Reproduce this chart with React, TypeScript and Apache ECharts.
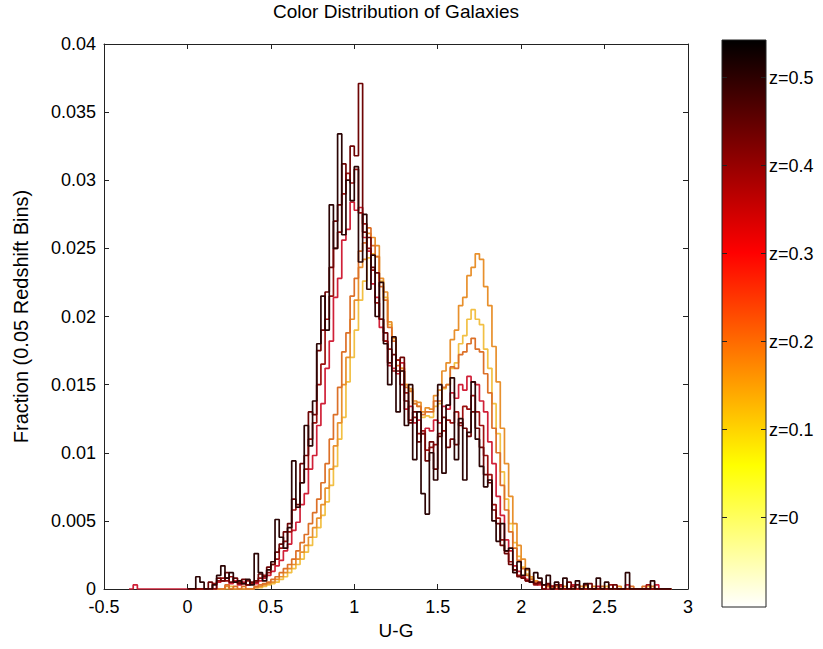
import React, { useEffect, useRef } from 'react';
import * as echarts from 'echarts';

// ---------- DATA (fractions in units of 1e-4, bins of 0.025 in U-G) ----------
const BIN_WIDTH = 0.025;

const X_TICKS = [-0.5, 0, 0.5, 1, 1.5, 2, 2.5, 3];
const Y_TICKS = [0, 0.005, 0.01, 0.015, 0.02, 0.025, 0.03, 0.035, 0.04];

const COLORBAR_LABELS = ['z=0', 'z=0.1', 'z=0.2', 'z=0.3', 'z=0.4', 'z=0.5'];
const COLORBAR_VALUES = [0, 0.1, 0.2, 0.3, 0.4, 0.5];
const COLORBAR_RANGE = [-0.102, 0.542];

const SERIES_NAMES = ['z=0.10', 'z=0.15', 'z=0.20', 'z=0.30', 'z=0.40', 'z=0.45', 'z=0.50'];
const SERIES_START = [0, 0, 0, -0.35, 0, 0, 0];

const FRAC_Z010 = [
  0, 0, 0, 0, 0, 0, 0, 0, 0, 0, 2, 0, 0, 0, 0, 0,
  1, 1, 2, 3, 4, 5, 7, 9, 12, 15, 18, 22, 27, 32, 38, 45,
  54, 64, 76, 90, 110, 126, 152, 170, 190, 212, 226, 243, 246, 244, 226, 214,
  194, 184, 168, 162, 150, 146, 136, 134, 126, 127, 126, 134, 136, 147, 150, 162,
  166, 180, 186, 198, 205, 198, 194, 176, 162, 136, 114, 86, 66, 48, 34, 24,
  16, 11, 8, 5, 4, 3, 2, 1, 0, 2, 0, 0, 0, 0, 0, 2,
  0, 0, 0, 0, 2, 0, 0, 0, 0, 0, 0, 0, 0, 0, 2, 0,
  0, 0, 0, 0,
];

const FRAC_Z015 = [
  0, 0, 0, 0, 0, 0, 0, 0, 0, 2, 0, 0, 0, 0, 0, 0,
  1, 2, 3, 4, 5, 7, 9, 12, 15, 18, 22, 27, 32, 38, 45, 52,
  62, 74, 88, 105, 122, 150, 170, 198, 212, 236, 242, 261, 258, 252, 228, 218,
  196, 184, 168, 162, 150, 147, 138, 137, 130, 133, 132, 142, 146, 160, 166, 183,
  190, 208, 214, 230, 236, 246, 242, 222, 208, 178, 152, 118, 92, 68, 48, 32,
  22, 14, 9, 6, 4, 3, 2, 2, 2, 0, 2, 0, 0, 0, 2, 0,
  0, 2, 0, 0, 0, 0, 0, 2, 0, 0, 0, 0, 0, 0, 0, 2,
  0, 0, 0, 0,
];

const FRAC_Z020 = [
  0, 0, 0, 0, 0, 0, 0, 0, 0, 3, 0, 2, 0, 2, 0, 0,
  2, 3, 4, 5, 7, 9, 12, 15, 18, 22, 28, 34, 40, 48, 56, 66,
  78, 92, 110, 128, 148, 174, 188, 215, 228, 248, 254, 265, 252, 244, 222, 212,
  192, 182, 164, 160, 148, 145, 136, 134, 128, 130, 130, 138, 138, 148, 150, 163,
  162, 172, 174, 180, 184, 176, 174, 158, 144, 118, 100, 76, 58, 42, 30, 21,
  15, 10, 7, 5, 4, 3, 2, 2, 0, 2, 0, 0, 2, 0, 0, 0,
  0, 0, 0, 2, 0, 0, 0, 0, 0, 0, 2, 0, 0, 2, 0, 0,
  0, 0, 0, 0,
];

const FRAC_Z030 = [
  0, 3, 0, 0, 0, 0, 0, 0, 0, 0, 0, 0, 0, 0,
  0, 0, 0, 0, 0, 0, 0, 5, 6, 8, 4, 6, 3, 5, 3, 4,
  4, 6, 8, 10, 13, 17, 21, 28, 33, 43, 49, 62, 70, 88, 98, 120,
  136, 162, 182, 214, 228, 256, 264, 284, 278, 280, 258, 248, 224, 214, 192, 182,
  164, 162, 158, 166, 132, 134, 122, 124, 114, 118, 116, 124, 122, 134, 132, 144,
  140, 150, 146, 156, 152, 150, 138, 130, 108, 92, 68, 54, 36, 28, 17, 13,
  9, 7, 5, 4, 3, 3, 0, 2, 0, 2, 0, 0, 3, 0, 0, 0,
  0, 0, 2, 0, 0, 0, 0, 0, 0, 3, 0, 0, 0, 0, 0, 0,
  3, 0, 0, 0,
];

const FRAC_Z040 = [
  0, 0, 0, 0, 0, 0, 4, 6, 8, 6, 9, 5, 5, 4, 6, 4,
  5, 8, 10, 12, 18, 22, 30, 35, 42, 58, 60, 78, 88, 110, 122, 150,
  165, 198, 215, 250, 262, 290, 305, 298, 308, 276, 268, 250, 234, 210, 198, 182,
  176, 160, 168, 150, 144, 124, 126, 114, 116, 102, 104, 106, 114, 116, 124, 122,
  130, 120, 134, 132, 142, 130, 120, 98, 84, 62, 52, 36, 28, 20, 14, 10,
  8, 6, 5, 3, 4, 0, 3, 2, 0, 3, 0, 0, 2, 0, 0, 3,
  0, 0, 0, 0, 0, 3, 0, 0, 0, 0, 0, 0, 0, 0, 3, 0,
  0, 0, 0, 0,
];

const FRAC_Z045 = [
  0, 0, 0, 0, 0, 5, 0, 8, 6, 12, 5, 8, 4, 7, 3, 5,
  6, 11, 9, 16, 18, 27, 33, 42, 48, 66, 62, 92, 98, 130, 128, 175,
  190, 218, 236, 270, 282, 312, 300, 325, 318, 371, 262, 258, 236, 232, 198, 188,
  166, 172, 160, 170, 138, 122, 130, 108, 114, 94, 108, 88, 112, 126, 104, 110,
  106, 122, 118, 112, 130, 118, 104, 84, 78, 58, 48, 32, 26, 18, 14, 9,
  8, 6, 5, 4, 5, 0, 4, 0, 3, 0, 0, 5, 0, 3, 0, 0,
  4, 0, 0, 0, 0, 0, 3, 0, 0, 0, 0, 0, 0, 0, 0, 0,
  0, 0, 0, 0,
];

const FRAC_Z050 = [
  0, 0, 9, 5, 0, 0, 3, 10, 17, 8, 12, 5, 6, 4, 7, 3,
  26, 12, 6, 14, 20, 51, 38, 30, 45, 94, 60, 78, 120, 105, 138, 180,
  215, 190, 282, 250, 334, 260, 300, 285, 310, 240, 275, 220, 245, 200, 225, 180,
  150, 185, 130, 160, 120, 150, 95, 130, 70, 55, 100, 80, 150, 85, 135, 155,
  95, 125, 80, 115, 152, 110, 90, 75, 80, 50, 35, 48, 28, 30, 12, 20,
  10, 15, 5, 12, 8, 3, 10, 0, 5, 0, 8, 0, 0, 6, 0, 4,
  0, 0, 8, 0, 5, 0, 0, 0, 0, 12, 0, 0, 0, 0, 0, 6,
  0, 0, 0, 0,
];

const SERIES_VALUES = [FRAC_Z010, FRAC_Z015, FRAC_Z020, FRAC_Z030, FRAC_Z040, FRAC_Z045, FRAC_Z050];

// ---------- STYLE ----------
const SERIES_COLORS = ['#f2c044', '#e8902c', '#dc7028', '#d02038', '#9c1010', '#6e0505', '#2b0505'];
const FONT = '"Liberation Sans", Arial, sans-serif';
const GRID = { left: 104, top: 44, width: 584, height: 545 };
const CB = { x: 722, y: 40, w: 44, h: 567 };

function stairs(start: number, vals: number[]): [number, number][] {
  const pts: [number, number][] = [[start, 0]];
  vals.forEach((v, i) => pts.push([start + i * BIN_WIDTH, v / 10000]));
  const end = start + vals.length * BIN_WIDTH;
  pts.push([end, vals[vals.length - 1] / 10000]);
  pts.push([end, 0]);
  return pts;
}

function fmt(v: number) {
  return String(parseFloat(v.toFixed(4)));
}

export default function App() {
  const ref = useRef<HTMLDivElement>(null);

  useEffect(() => {
    if (!ref.current) return;
    const chart = echarts.init(ref.current, undefined, { renderer: 'svg' });

    const zToY = (z: number) =>
      CB.y + CB.h - ((z - COLORBAR_RANGE[0]) / (COLORBAR_RANGE[1] - COLORBAR_RANGE[0])) * CB.h;

    const cbElements: any[] = [
      {
        type: 'rect',
        shape: { x: CB.x, y: CB.y, width: CB.w, height: CB.h },
        style: {
          fill: new echarts.graphic.LinearGradient(0, 0, 0, 1, [
            { offset: 0, color: '#000000' },
            { offset: 0.375, color: '#ff0000' },
            { offset: 0.75, color: '#ffff00' },
            { offset: 1, color: '#ffffff' },
          ]),
          stroke: '#222',
          lineWidth: 1,
        },
      },
    ];
    COLORBAR_VALUES.forEach((z, i) => {
      const y = Math.round(zToY(z)) + 0.5;
      cbElements.push({
        type: 'line',
        shape: { x1: CB.x, y1: y, x2: CB.x + 5, y2: y },
        style: { stroke: '#222', lineWidth: 1 },
      });
      cbElements.push({
        type: 'line',
        shape: { x1: CB.x + CB.w - 5, y1: y, x2: CB.x + CB.w, y2: y },
        style: { stroke: '#222', lineWidth: 1 },
      });
      cbElements.push({
        type: 'text',
        x: CB.x + CB.w + 3,
        y,
        style: {
          text: COLORBAR_LABELS[i],
          fill: '#000',
          fontSize: 18,
          fontFamily: FONT,
          verticalAlign: 'middle',
          align: 'left',
        },
      });
    });

    const axisCommon = {
      type: 'value' as const,
      axisLine: { show: true, onZero: false, lineStyle: { color: '#222', width: 1 } },
      axisTick: { show: true, inside: true, length: 5, lineStyle: { color: '#222' } },
      splitLine: { show: false },
    };

    chart.setOption({
      animation: false,
      backgroundColor: '#fff',
      title: {
        text: 'Color Distribution of Galaxies',
        left: GRID.left + GRID.width / 2,
        textAlign: 'center',
        top: 2,
        padding: 0,
        textStyle: { fontSize: 19, fontWeight: 'normal', color: '#000', fontFamily: FONT },
      },
      grid: { ...GRID, containLabel: false },
      xAxis: [
        {
          ...axisCommon,
          min: X_TICKS[0],
          max: X_TICKS[X_TICKS.length - 1],
          interval: 0.5,
          position: 'bottom',
          name: 'U-G',
          nameLocation: 'middle',
          nameGap: 32,
          nameTextStyle: { fontSize: 19, color: '#000', fontFamily: FONT },
          axisLabel: { fontSize: 18, lineHeight: 18, color: '#000', fontFamily: FONT, margin: 9, formatter: fmt },
        },
        {
          ...axisCommon,
          min: X_TICKS[0],
          max: X_TICKS[X_TICKS.length - 1],
          interval: 0.5,
          position: 'top',
          axisLabel: { show: false },
        },
      ],
      yAxis: [
        {
          ...axisCommon,
          min: Y_TICKS[0],
          max: Y_TICKS[Y_TICKS.length - 1],
          interval: 0.005,
          position: 'left',
          name: 'Fraction (0.05 Redshift Bins)',
          nameLocation: 'middle',
          nameGap: 73,
          nameTextStyle: { fontSize: 20, color: '#000', fontFamily: FONT },
          axisLabel: { fontSize: 18, lineHeight: 18, color: '#000', fontFamily: FONT, margin: 8, formatter: fmt },
        },
        {
          ...axisCommon,
          min: Y_TICKS[0],
          max: Y_TICKS[Y_TICKS.length - 1],
          interval: 0.005,
          position: 'right',
          axisLabel: { show: false },
        },
      ],
      series: SERIES_VALUES.map((vals, i) => ({
        type: 'line',
        name: SERIES_NAMES[i],
        xAxisIndex: 0,
        yAxisIndex: 0,
        step: 'end',
        showSymbol: false,
        symbol: 'none',
        data: stairs(SERIES_START[i], vals),
        lineStyle: { color: SERIES_COLORS[i], width: 1.7 },
        itemStyle: { color: SERIES_COLORS[i] },
        z: 2 + i,
      })),
      graphic: cbElements,
    });

    return () => chart.dispose();
  }, []);

  return (
    <div
      ref={ref}
      style={{ position: 'fixed', left: 0, top: 0, width: 823, height: 649, background: '#fff' }}
    />
  );
}
